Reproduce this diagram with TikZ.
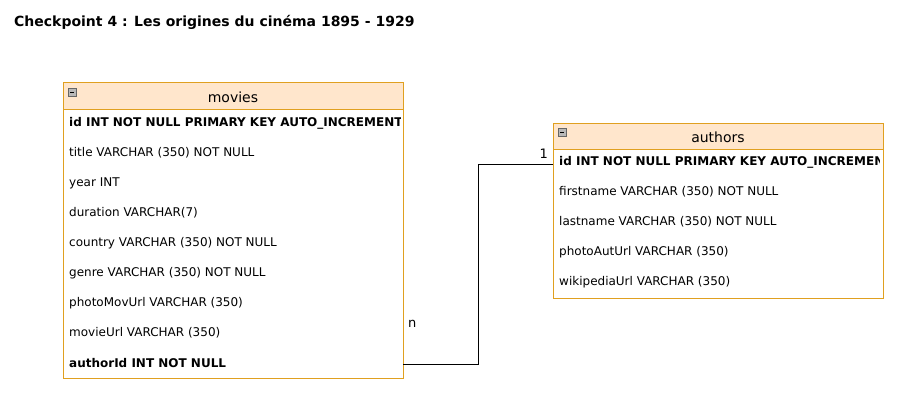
\documentclass[tikz,border=0pt]{standalone}
\usepackage{fontspec}
\setmainfont{DejaVu Sans}
\definecolor{tborder}{HTML}{E0A020}
\definecolor{thead}{HTML}{FFE6CC}
\tikzset{
  rowtext/.style={anchor=west, inner sep=0pt, font=\fontsize{12}{14}\selectfont},
  keytext/.style={rowtext, font=\fontsize{12}{14}\selectfont\bfseries},
  headtext/.style={inner sep=0pt, font=\fontsize{14}{16}\selectfont},
  boxline/.style={draw=tborder, line width=1pt},
  conn/.style={draw=black, line width=1pt},
  lbl/.style={inner sep=0pt, font=\fontsize{13}{15}\selectfont},
}
\newcommand{\collapsebox}[2]{%
  \draw[fill=gray!55, draw=gray!80!black, line width=0.6pt] (#1,#2) rectangle ++(8,8);
  \draw[black, line width=0.8pt] (#1+2,#2+4) -- (#1+6,#2+4);}
\begin{document}
\begin{tikzpicture}[x=1pt,y=-1pt]
\useasboundingbox (0,0) rectangle (908,412);
\node[anchor=west, inner sep=0pt, font=\fontsize{14}{16}\selectfont\bfseries] (title) at (14,22) {Checkpoint 4 : Les origines du cinéma 1895 - 1929};
% movies
\fill[thead] (63,83) rectangle (403,109);
\fill[white] (63,109) rectangle (403,378);
\begin{scope}
\clip (63,109) rectangle (400,378);
\node[keytext] (m1) at (69,123) {id INT NOT NULL PRIMARY KEY AUTO\_INCREMENT};
\end{scope}
\node[rowtext] (m2) at (69,153) {title VARCHAR (350) NOT NULL};
\node[rowtext] (m3) at (69,183) {year INT};
\node[rowtext] (m4) at (69,213) {duration VARCHAR(7)};
\node[rowtext] (m5) at (69,243) {country VARCHAR (350) NOT NULL};
\node[rowtext] (m6) at (69,273) {genre VARCHAR (350) NOT NULL};
\node[rowtext] (m7) at (69,303) {photoMovUrl VARCHAR (350)};
\node[rowtext] (m8) at (69,333) {movieUrl VARCHAR (350)};
\node[keytext] (m9) at (69,363) {authorId INT NOT NULL};
\node[headtext] (mh) at (233,97) {movies};
\draw[boxline] (63,83) rectangle (403,378);
\draw[boxline] (63,109) -- (403,109);
\coordinate (mr) at (403,364);
\collapsebox{68}{88}
% authors
\fill[thead] (553,123) rectangle (883,149);
\fill[white] (553,149) rectangle (883,298);
\begin{scope}
\clip (553,149) rectangle (879,298);
\node[keytext] (a1) at (559,162) {id INT NOT NULL PRIMARY KEY AUTO\_INCREMENT};
\end{scope}
\node[rowtext] (a2) at (559,192) {firstname VARCHAR (350) NOT NULL};
\node[rowtext] (a3) at (559,222) {lastname VARCHAR (350) NOT NULL};
\node[rowtext] (a4) at (559,252) {photoAutUrl VARCHAR (350)};
\node[rowtext] (a5) at (559,282) {wikipediaUrl VARCHAR (350)};
\node[headtext] (ah) at (718,137) {authors};
\draw[boxline] (553,123) rectangle (883,298);
\draw[boxline] (553,149) -- (883,149);
\coordinate (al) at (553,164);
\collapsebox{558}{128}
% connector
\draw[conn] (mr) -- (478,364) -- (478,164) -- (al);
\node[lbl, anchor=east] (one) at (548,154) {1};
\node[lbl, anchor=west] (n) at (408,324) {n};
\end{tikzpicture}
\end{document}
